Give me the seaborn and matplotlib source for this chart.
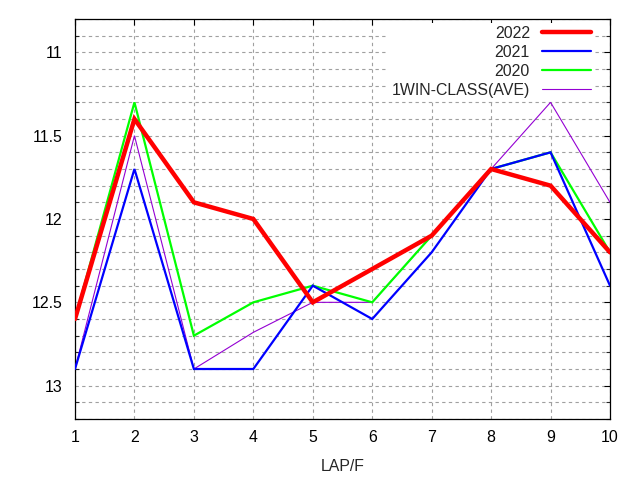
import matplotlib
matplotlib.use("Agg")
import matplotlib.pyplot as plt
import seaborn as sns
import pandas as pd
from matplotlib.ticker import MultipleLocator, FixedLocator, FixedFormatter

laps = [1, 2, 3, 4, 5, 6, 7, 8, 9, 10]
y2022 = [12.6, 11.4, 11.9, 12.0, 12.5, 12.3, 12.1, 11.7, 11.8, 12.2]
y2021 = [12.9, 11.7, 12.9, 12.9, 12.4, 12.6, 12.2, 11.7, 11.6, 12.4]
y2020 = [12.6, 11.3, 12.7, 12.5, 12.4, 12.5, 12.1, 11.7, 11.6, 12.2]
y_ave = [12.9, 11.5, 12.9, 12.68, 12.5, 12.5, 12.1, 11.7, 11.3, 11.9]

series_names = ["2022", "2021", "2020", "1WIN-CLASS(AVE)"]
series_vals = [y2022, y2021, y2020, y_ave]
colors = ["#ff0000", "#0000ff", "#00ff00", "#9400d3"]
widths = [3.2, 1.6, 1.6, 0.8]
zorders = [6, 5, 4, 3]

yticks = [11, 11.5, 12, 12.5, 13]
ytick_labels = ["11", "11.5", "12", "12.5", "13"]

sns.set_style("white")
plt.rcParams['font.family'] = ['Liberation Sans', 'DejaVu Sans']

FS = 11.4

fig = plt.figure(figsize=(6.4, 4.8), dpi=100)
ax = fig.add_axes([75/640, 61/480, 535/640, 400/480])

rows = []
for name, vals in zip(series_names, series_vals):
    for x, v in zip(laps, vals):
        rows.append({"lap": x, "time": v, "series": name})
df = pd.DataFrame(rows)

for name, c, w, z in zip(series_names, colors, widths, zorders):
    sns.lineplot(data=df[df["series"] == name], x="lap", y="time", color=c,
                 linewidth=w, ax=ax, label=name, zorder=z, estimator=None,
                 solid_joinstyle="miter")

ax.set_xlim(1, 10)
ax.set_ylim(13.2, 10.8)
ax.xaxis.set_major_locator(FixedLocator(laps))
ax.yaxis.set_major_locator(FixedLocator(yticks))
ax.yaxis.set_major_formatter(FixedFormatter(ytick_labels))
ax.yaxis.set_minor_locator(MultipleLocator(0.1))

ax.grid(True, which="major", axis="x", color="#a0a0a0", linestyle=(0, (3, 3)), linewidth=0.8, zorder=1)
ax.grid(True, which="both", axis="y", color="#a0a0a0", linestyle=(0, (3, 3)), linewidth=0.8, zorder=1)
ax.set_axisbelow(True)

ax.tick_params(which="major", direction="in", length=4.5, width=0.8, top=True, right=True,
               labelsize=FS, colors="black")
ax.tick_params(axis="x", which="major", pad=8)
ax.tick_params(axis="y", which="major", pad=9)
ax.tick_params(which="minor", direction="in", length=3, width=0.8, left=True, right=True)
ax.tick_params(axis="x", which="minor", bottom=False, top=False)

for s in ax.spines.values():
    s.set_visible(True)
    s.set_color("black")
    s.set_linewidth(0.9)

ax.set_xlabel("LAP/F", fontsize=FS, labelpad=10)
ax.set_ylabel("")

leg = ax.legend(loc="upper right", bbox_to_anchor=(1 - 16/535, 1 - 3.5/400),
                markerfirst=False, frameon=True, framealpha=1,
                edgecolor="white", facecolor="white", fancybox=False,
                fontsize=FS, handlelength=3.1, handletextpad=0.75,
                labelspacing=0.26, borderpad=0.2, borderaxespad=0.0)
leg.get_frame().set_linewidth(0)
try:
    for col in leg._legend_box._children[-1]._children:
        col.align = "right"
except Exception:
    pass

fig.savefig("out.png", dpi=100)
